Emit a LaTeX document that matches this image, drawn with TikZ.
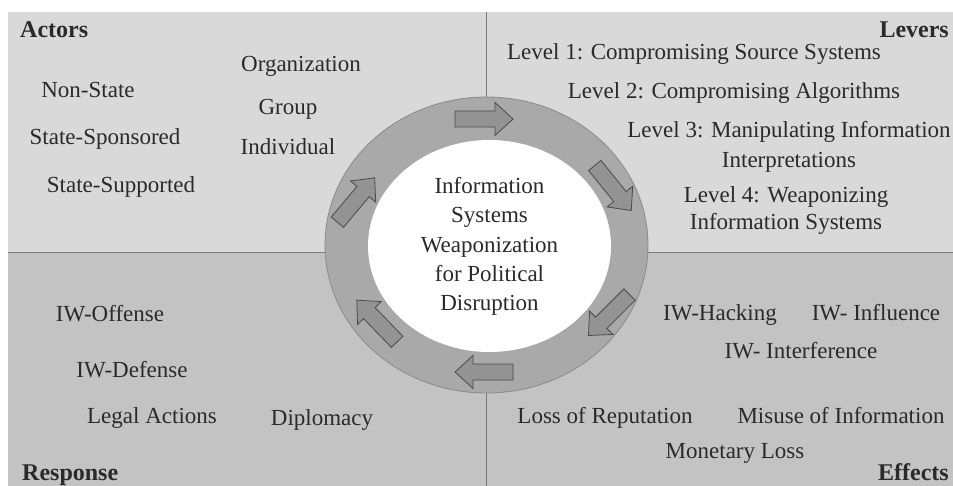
\documentclass[tikz,border=0pt]{standalone}
\usepackage{fontspec}
\setmainfont{Liberation Serif}
\usetikzlibrary{shapes.geometric}
\definecolor{toppanel}{HTML}{D9D9D9}
\definecolor{botpanel}{HTML}{C3C3C3}
\definecolor{divline}{HTML}{7A7A7A}
\definecolor{ringfill}{HTML}{A9A9A9}
\definecolor{ringline}{HTML}{8A8A8A}
\definecolor{arrfill}{HTML}{939393}
\definecolor{arrline}{HTML}{4A4A4A}
\definecolor{txt}{HTML}{2A2A2A}
\tikzset{
  lbl/.style={text=txt, font=\fontsize{23}{29}\selectfont, inner sep=0pt, anchor=base},
  blk/.style={text=txt, font=\fontsize{23}{29}\selectfont, inner sep=0pt, align=center},
  head/.style={text=txt, font=\fontsize{24}{29}\selectfont\bfseries, inner sep=0pt},
  divider/.style={draw=divline, line width=0.8pt},
  arrowstyle/.style={fill=arrfill, draw=arrline, line width=0.8pt, line join=miter},
  ringarrow/.pic={\path[arrowstyle] (-29,-8) -- (11,-8) -- (11,-16.5) -- (29,0) -- (11,16.5) -- (11,8) -- (-29,8) -- cycle;}
}
\begin{document}
\begin{tikzpicture}[x=1pt,y=-1pt]
\useasboundingbox (0,0) rectangle (953,486);
\fill[white] (0,0) rectangle (953,486);
% quadrants
\fill[toppanel] (8,12) rectangle (953,252);
\fill[botpanel] (8,252) rectangle (953,486);
\coordinate (vtop) at (486.5,12);
\coordinate (vbot) at (486.5,486);
\coordinate (hleft) at (8,252);
\coordinate (hright) at (953,252);
\draw[divider] (vtop) -- (vbot);
\draw[divider] (hleft) -- (hright);
% ring
\node[ellipse, fill=ringfill, draw=ringline, line width=0.8pt, inner sep=0pt, outer sep=0pt,
      minimum width=323pt, minimum height=296pt] (ring) at (486.5,245) {};
\node[ellipse, fill=white, inner sep=0pt, outer sep=0pt,
      minimum width=243pt, minimum height=212pt] (core) at (489.5,246) {};
\node[blk, font=\fontsize{23}{29.3}\selectfont] (title) at (489.5,246.5)
  {Information\\Systems\\Weaponization\\for Political\\Disruption};
% arrows around the ring
\pic[rotate=0]    at (484,119) {ringarrow};
\pic[rotate=-51]  at (613,188) {ringarrow};
\pic[rotate=-135] at (609,315) {ringarrow};
\pic[rotate=180]  at (484,372) {ringarrow};
\pic[rotate=134]  at (377,321) {ringarrow};
\pic[rotate=50]   at (356,200) {ringarrow};
% headings
\node[head, anchor=base west] (actors) at (20,38) {Actors};
\node[head, anchor=base east] (levers) at (949,38) {Levers};
\node[head, anchor=base west] (response) at (22,480) {Response};
\node[head, anchor=base east] (effects) at (949,480) {Effects};
% actors
\node[lbl] (org) at (301,72) {Organization};
\node[lbl] (nonstate) at (88,98) {Non-State};
\node[lbl] (group) at (288,115) {Group};
\node[lbl] (sponsored) at (105,145) {State-Sponsored};
\node[lbl] (indiv) at (288,155) {Individual};
\node[lbl] (supported) at (121,193) {State-Supported};
% levers
\node[lbl] (lev1) at (694,60) {Level 1: Compromising Source Systems};
\node[lbl] (lev2) at (734,99) {Level 2: Compromising Algorithms};
\node[blk, font=\fontsize{23}{30}\selectfont] (lev3) at (789,147) {Level 3: Manipulating Information\\Interpretations};
\node[blk, font=\fontsize{23}{27}\selectfont] (lev4) at (786,211) {Level 4: Weaponizing\\Information Systems};
% response
\node[lbl] (offense) at (110,322) {IW-Offense};
\node[lbl] (defense) at (132,377) {IW-Defense};
\node[lbl] (legal) at (152,423) {Legal Actions};
\node[lbl] (diplo) at (322,425) {Diplomacy};
% effects
\node[lbl] (hack) at (720,320) {IW-Hacking};
\node[lbl] (influ) at (876,320) {IW- Influence};
\node[lbl] (interf) at (801,358) {IW- Interference};
\node[lbl] (reput) at (605,423) {Loss of Reputation};
\node[lbl] (misuse) at (841,423) {Misuse of Information};
\node[lbl] (money) at (735,458) {Monetary Loss};
\end{tikzpicture}
\end{document}
